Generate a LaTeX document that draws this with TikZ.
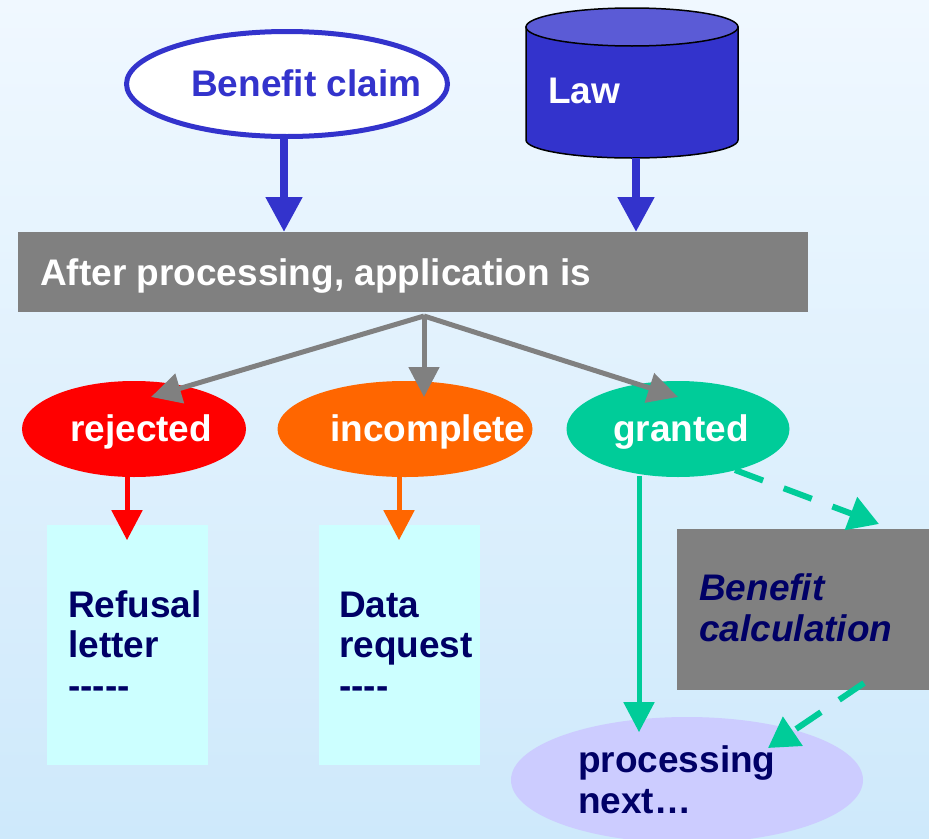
\documentclass[tikz,border=0pt]{standalone}
\usepackage{fontspec}
\setmainfont{Liberation Sans}[Ligatures=TeXOff]
\usetikzlibrary{arrows.meta,calc,shapes.geometric}

\definecolor{bgtop}{RGB}{240,248,255}
\definecolor{bgbottom}{RGB}{206,233,251}
\definecolor{claimblue}{RGB}{51,51,204}
\definecolor{lawtop}{RGB}{91,91,214}
\definecolor{boxgray}{RGB}{128,128,128}
\definecolor{rejred}{RGB}{255,0,0}
\definecolor{incorange}{RGB}{255,102,0}
\definecolor{grantgreen}{RGB}{0,204,153}
\definecolor{papercyan}{RGB}{204,255,255}
\definecolor{nextlilac}{RGB}{204,204,255}
\definecolor{navy}{RGB}{0,0,102}

\tikzset{
  txt/.style={font=\fontsize{37}{40.5}\selectfont\bfseries, inner sep=0pt,
              anchor=base west, align=left},
  oval/.style={ellipse, inner sep=0pt},
  slab/.style={rectangle, inner sep=0pt, anchor=north west},
  bigarrow/.style={line width=8pt, claimblue, -{Triangle[width=35pt,length=35pt]}},
  forkarrow/.style={line width=5pt, boxgray, -{Triangle[width=30pt,length=30pt]}},
  thinarrow/.style={line width=5pt, -{Triangle[width=30pt,length=30pt]}},
  dasharrow/.style={line width=6pt, grantgreen, dash pattern=on 30pt off 22pt,
                    -{Triangle[width=34pt,length=30pt]}}
}

\begin{document}
\begin{tikzpicture}[x=1pt,y=-1pt]
\useasboundingbox (0,0) rectangle (929,838);
\clip (0,0) rectangle (929,838);
\shade[top color=bgtop, bottom color=bgbottom] (0,0) rectangle (929,838);

% inputs
\node[oval, draw=claimblue, line width=5pt, fill=white,
      minimum width=321pt, minimum height=105pt] (claim) at (287,84) {};
\node[txt, text=claimblue] (claimtxt) at (191,96) {Benefit claim};

% law store drawn as a cylinder
\filldraw[fill=claimblue, draw=black, line width=1.5pt]
  (526,27) -- (526,140)
  .. controls (526,149.9) and (573.5,158) .. (632,158)
  .. controls (690.5,158) and (738,149.9) .. (738,140)
  -- (738,27) -- cycle;
\filldraw[fill=lawtop, draw=black, line width=1.5pt] (632,27) ellipse[x radius=106, y radius=19];
\node[txt, text=white] (law) at (548,103) {Law};
\coordinate (lawfoot) at (636,158);
\coordinate (claimfoot) at ($(claim.south)+(-3,0)$);

% processing step
\node[slab, fill=boxgray, minimum width=790pt, minimum height=80pt] (after) at (18,232) {};
\node[txt, text=white] (aftertxt) at (40,285) {After processing, application is};
\coordinate (fork) at (424,316);

\draw[bigarrow] (claimfoot) -- (claimfoot |- after.north);
\draw[bigarrow] (lawfoot) -- (lawfoot |- after.north);

% outcomes
\node[oval, fill=rejred, minimum width=224pt, minimum height=96pt] (rej) at (134,429) {};
\node[txt, text=white] (rejtxt) at (70,441) {rejected};
\node[oval, fill=incorange, minimum width=255pt, minimum height=96pt] (inc) at (405,429) {};
\node[txt, text=white] (inctxt) at (330,441) {incomplete};
\node[oval, fill=grantgreen, minimum width=223pt, minimum height=96pt] (gra) at (678,429) {};
\node[txt, text=white] (gratxt) at (613,441) {granted};

\draw[forkarrow] (fork) -- ($(rej.center)+(17,-32)$);
\draw[forkarrow] (fork) -- ($(inc.center)+(19,-32)$);
\draw[forkarrow] (fork) -- ($(gra.center)+(0,-32)$);

% documents
\node[slab, fill=papercyan, minimum width=161pt, minimum height=240pt] (refusal) at (47,525) {};
\node[txt, text=navy] (refusaltxt) at (68,698) {Refusal\\letter\\-----};
\node[slab, fill=papercyan, minimum width=161pt, minimum height=240pt] (datareq) at (319,525) {};
\node[txt, text=navy] (datareqtxt) at (339,698) {Data\\request\\----};

\draw[thinarrow, rejred] ($(rej.south)+(-7,-1)$) -- ++(0,64);
\draw[thinarrow, incorange] ($(inc.south)+(-6,-1)$) -- ++(0,64);

% calculation and next step
\node[slab, fill=boxgray, minimum width=270pt, minimum height=161pt] (calc) at (677,529) {};
\node[txt, text=navy, font=\fontsize{37}{40.5}\selectfont\bfseries\itshape] (calctxt) at (699,641) {Benefit\\calculation};
\node[oval, fill=nextlilac, minimum width=352pt, minimum height=126pt] (next) at (687,780) {};
\node[txt, text=navy] (nexttxt) at (578,813) {processing\\next…};

\draw[thinarrow, grantgreen] ($(gra.south)+(-39,-1)$) -- ++(0,256);
\draw[dasharrow] ($(gra.center)+(57,41)$) -- ($(calc.north west)+(202,-5)$);
\draw[dasharrow] ($(calc.north west)+(187,154)$) -- ($(next.center)+(81,-32)$);
\end{tikzpicture}
\end{document}
